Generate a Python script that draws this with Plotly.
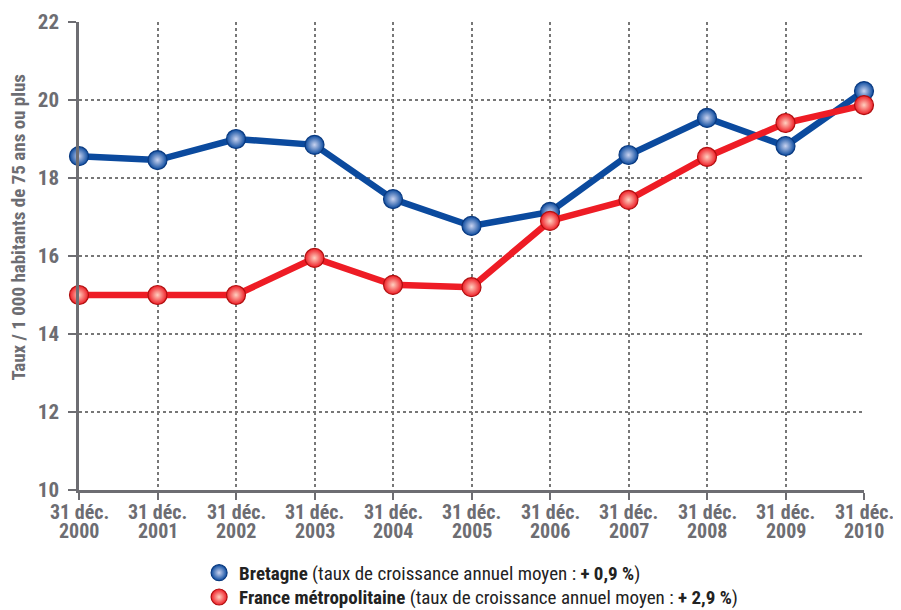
import plotly.graph_objects as go

years = [2000, 2001, 2002, 2003, 2004, 2005, 2006, 2007, 2008, 2009, 2010]
tick_line1 = ["31 déc."] * len(years)
tick_line2 = [str(y) for y in years]
bretagne = [18.56, 18.46, 19.0, 18.85, 17.46, 16.77, 17.13, 18.59, 19.54, 18.82, 20.23]
france = [15.0, 15.0, 15.0, 15.95, 15.26, 15.2, 16.9, 17.44, 18.54, 19.41, 19.87]
y_ticks = [10, 12, 14, 16, 18, 20, 22]

FONT = "Liberation Sans Narrow, Roboto Condensed, Liberation Sans, sans-serif"
GREY = "#6d6d72"
BLUE = "#0b4a9e"
RED = "#ee1c25"

fig = go.Figure()

def add_series(vals, color, dark, light, name, legend):
    fig.add_trace(go.Scatter(
        x=years, y=vals, mode="lines+markers", cliponaxis=False, showlegend=False,
        line=dict(color=color, width=6.5),
        marker=dict(size=19, color=color, line=dict(color=dark, width=1.2),
                    gradient=dict(type="radial", color=light)),
    ))
    fig.add_trace(go.Scatter(
        x=[None], y=[None], mode="markers", name=name, showlegend=True, legend=legend,
        marker=dict(size=18, color=color, line=dict(color=dark, width=1.2),
                    gradient=dict(type="radial", color=light)),
    ))

add_series(bretagne, BLUE, "#0a3a80", "#c9d3f0",
           "<b>Bretagne</b> (taux de croissance annuel moyen : <b>+ 0,9 %</b>)", "legend")
add_series(france, RED, "#b01010", "#ffd0c0",
           "<b>France métropolitaine</b> (taux de croissance annuel moyen : <b>+ 2,9 %</b>)", "legend2")

annotations = [dict(
    text="<b>Taux / 1 000 habitants de 75 ans ou plus</b>",
    xref="paper", yref="paper", x=-0.077, y=0.56, textangle=-90,
    showarrow=False, font=dict(family=FONT, size=19, color=GREY),
    xanchor="center", yanchor="middle")]
for yr, l1, l2 in zip(years, tick_line1, tick_line2):
    annotations.append(dict(text="<b>%s</b>" % l1, x=yr, xref="x", y=0, yref="paper",
                            yshift=-22, showarrow=False, xanchor="center", yanchor="middle",
                            font=dict(family=FONT, size=20, color=GREY)))
    annotations.append(dict(text="<b>%s</b>" % l2, x=yr, xref="x", y=0, yref="paper",
                            yshift=-41, showarrow=False, xanchor="center", yanchor="middle",
                            font=dict(family=FONT, size=20, color=GREY)))

leg_common = dict(x=0.153, xanchor="left", yanchor="middle", orientation="v",
                  font=dict(family=FONT, size=19, color="#222222"),
                  itemwidth=30, bgcolor="rgba(0,0,0,0)")

# page body has an 8px margin: figure is offset by 8px in the window
fig.update_layout(
    width=893, height=602,
    margin=dict(l=71, r=37, t=14, b=120, autoexpand=False),
    paper_bgcolor="white", plot_bgcolor="white",
    font=dict(family=FONT, color=GREY, size=16),
    legend=dict(y=-0.177, **leg_common),
    legend2=dict(y=-0.229, **leg_common),
    annotations=annotations,
)

fig.update_xaxes(
    range=[2000, 2010], tickvals=years, showticklabels=False,
    showgrid=True, gridcolor="#777777", griddash="dot", gridwidth=1.5,
    showline=True, linecolor=GREY, linewidth=2.5, automargin=False,
    ticks="outside", ticklen=7, tickcolor=GREY, tickwidth=2,
    zeroline=False,
)
fig.update_yaxes(
    range=[10, 22], tickvals=y_ticks, ticktext=["<b>%d</b>" % v for v in y_ticks],
    showgrid=True, gridcolor="#777777", griddash="dot", gridwidth=1.5,
    showline=True, linecolor=GREY, linewidth=2.5, automargin=False,
    ticks="outside", ticklen=8, tickcolor=GREY, tickwidth=2, ticklabelstandoff=5,
    tickfont=dict(family=FONT, size=21, color=GREY),
    zeroline=False,
)

fig.write_html("out.html")
